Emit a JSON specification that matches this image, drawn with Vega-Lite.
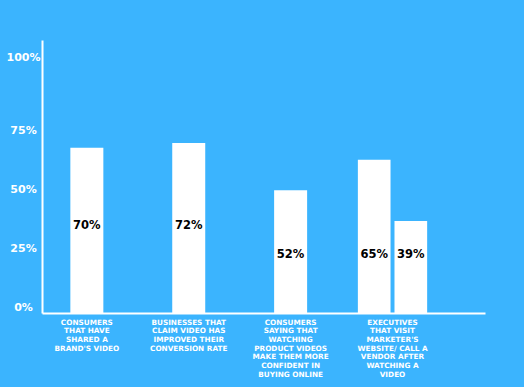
{
  "$schema": "https://vega.github.io/schema/vega-lite/v6.json",
  "autosize": {"type": "none"},
  "width": 443,
  "height": 273,
  "padding": {"left": 42, "top": 40, "right": 39, "bottom": 74},
  "background": "#3BB4FE",
  "config": {"view": {"stroke": null}},
  "data": {
    "values": [
      {"cat": "CONSUMERS|THAT HAVE|SHARED A|BRAND'S VIDEO", "sub": "a", "value": 70, "label": "70%", "row": "top"},
      {"cat": "BUSINESSES THAT|CLAIM VIDEO HAS|IMPROVED THEIR|CONVERSION RATE", "sub": "a", "value": 72, "label": "72%", "row": "top"},
      {"cat": "CONSUMERS|SAYING THAT|WATCHING|PRODUCT VIDEOS|MAKE THEM MORE|CONFIDENT IN|BUYING ONLINE", "sub": "a", "value": 52, "label": "52%", "row": "low"},
      {"cat": "EXECUTIVES|THAT VISIT|MARKETER'S|WEBSITE/ CALL A|VENDOR AFTER|WATCHING A|VIDEO", "sub": "a", "value": 65, "label": "65%", "row": "low"},
      {"cat": "EXECUTIVES|THAT VISIT|MARKETER'S|WEBSITE/ CALL A|VENDOR AFTER|WATCHING A|VIDEO", "sub": "b", "value": 39, "label": "39%", "row": "low"}
    ]
  },
  "encoding": {
    "x": {
      "field": "cat",
      "type": "nominal",
      "sort": null,
      "scale": {"paddingInner": 0.32, "paddingOuter": 0.334, "align": 0.15},
      "axis": {
        "title": null,
        "labelAngle": 0,
        "labelExpr": "split(datum.label, '|')",
        "labelFont": "DejaVu Sans",
        "labelFontWeight": "bold",
        "labelFontSize": 7.3,
        "labelLineHeight": 8.7,
        "labelColor": "white",
        "labelBaseline": "top",
        "labelPadding": 5,
        "labelLimit": 0,
        "ticks": false,
        "tickSize": 0,
        "domainColor": "white",
        "domainWidth": 2
      }
    },
    "y": {
      "type": "quantitative",
      "scale": {"domain": [0, 115.7], "nice": false},
      "axis": {
        "title": null,
        "values": [0, 25, 50, 75, 100],
        "labelExpr": "datum.value + '%'",
        "grid": false,
        "ticks": false,
        "tickSize": 0,
        "labelFont": "DejaVu Sans",
        "labelFontWeight": "bold",
        "labelFontSize": 11,
        "labelColor": "white",
        "labelAlign": "center",
        "labelBaseline": "middle",
        "labelPadding": 19,
        "labelOffset": {"condition": {"test": "datum.value == 100", "value": -20}, "value": -6},
        "domainColor": "white",
        "domainWidth": 2
      }
    }
  },
  "layer": [
    {
      "transform": [{"filter": "indexof(datum.cat, 'EXECUTIVES') < 0"}],
      "mark": {"type": "bar", "color": "white", "width": 33},
      "encoding": {"y": {"field": "value", "type": "quantitative"}}
    },
    {
      "transform": [{"filter": "indexof(datum.cat, 'EXECUTIVES') >= 0"}],
      "mark": {"type": "bar", "color": "white"},
      "encoding": {
        "y": {"field": "value", "type": "quantitative"},
        "xOffset": {"field": "sub", "type": "nominal", "scale": {"paddingInner": 0.108, "paddingOuter": 0}}
      }
    },
    {
      "transform": [{"filter": "datum.row == 'top'"}],
      "mark": {"type": "text", "color": "black", "font": "DejaVu Sans", "fontWeight": "bold", "fontSize": 11.5},
      "encoding": {"y": {"datum": 37, "type": "quantitative"}, "text": {"field": "label"}}
    },
    {
      "transform": [{"filter": "datum.row == 'low' && indexof(datum.cat, 'EXECUTIVES') < 0"}],
      "mark": {"type": "text", "color": "black", "font": "DejaVu Sans", "fontWeight": "bold", "fontSize": 11.5},
      "encoding": {"y": {"datum": 24.5, "type": "quantitative"}, "text": {"field": "label"}}
    },
    {
      "transform": [{"filter": "indexof(datum.cat, 'EXECUTIVES') >= 0"}],
      "mark": {"type": "text", "color": "black", "font": "DejaVu Sans", "fontWeight": "bold", "fontSize": 11.5},
      "encoding": {
        "y": {"datum": 24.5, "type": "quantitative"},
        "xOffset": {"field": "sub", "type": "nominal"},
        "text": {"field": "label"}
      }
    }
  ]
}
